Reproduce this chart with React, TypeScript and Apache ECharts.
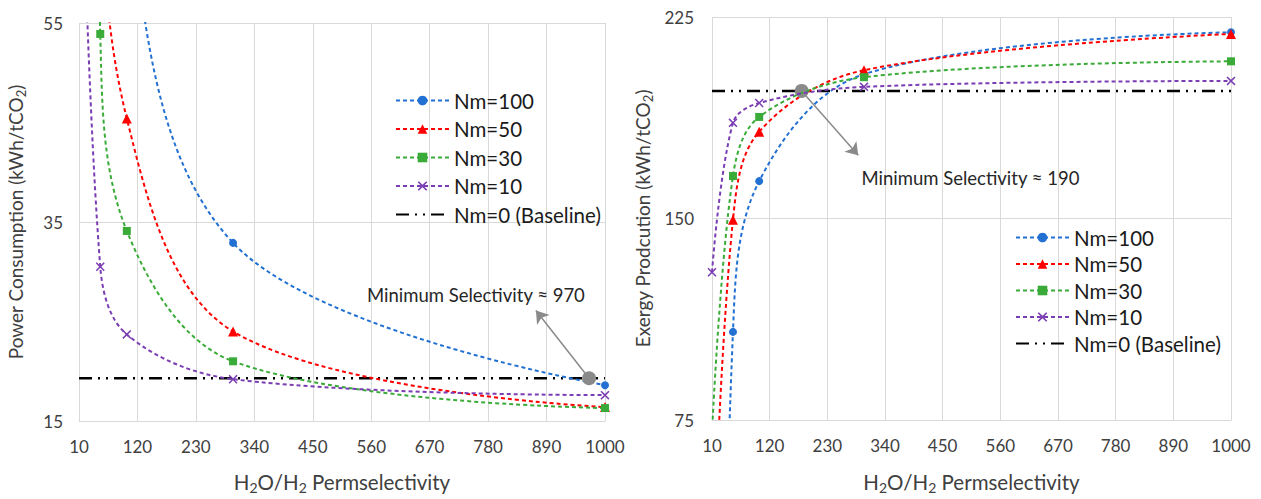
import React, { useEffect, useRef } from 'react';
import * as echarts from 'echarts';

// ---- data ----
const X_VALUES = [10, 50, 100, 300, 1000];
const SERIES_NAMES = ['Nm=100', 'Nm=50', 'Nm=30', 'Nm=10'];
const BASELINE_NAME = 'Nm=0 (Baseline)';

// Power consumption (kWh/tCO2); values above 55 lie outside the visible range
const POWER_NM100 = [620, 135, 70, 32.9, 18.6];
const POWER_NM50 = [334, 77.5, 45.4, 24.0, 16.4];
const POWER_NM30 = [212, 53.9, 34.1, 21.0, 16.3];
const POWER_NM10 = [85, 30.5, 23.7, 19.2, 17.6];
const POWER_BASELINE = [19.3, 19.3];

// Exergy production (kWh/tCO2); values below 75 lie outside the visible range
const EXERGY_NM100 = [-250, 107.8, 163.9, 203.7, 219.3];
const EXERGY_NM50 = [10, 149.5, 182.3, 205.2, 218.7];
const EXERGY_NM30 = [70, 165.8, 187.8, 202.6, 208.5];
const EXERGY_NM10 = [130, 185.6, 193.0, 199.0, 201.2];
const EXERGY_BASELINE = [197.5, 197.5];
const BASELINE_X = [10, 1000];

const X_MIN = 10;
const X_MAX = 1000;
const X_INTERVAL = 110;
const POWER_TICKS = [15, 55, 20]; // min, max, interval
const EXERGY_TICKS = [75, 225, 75];

const POWER_MIN_SEL = [970, 19.3];
const POWER_ARROW_TIP = [870, 26.1];
const POWER_LABEL_AT = [757, 27.7];
const EXERGY_MIN_SEL = [181, 197.5];
const EXERGY_ARROW_TIP = [289, 173.5];
const EXERGY_LABEL_AT = [503, 165];

const COLORS = ['#2170d2', '#ff0000', '#3aab38', '#7a3db3'];
const FONT = 'Lato, "Liberation Sans", sans-serif';
const XSYM = 'path://M0,1.2 L1.2,0 L5,3.8 L8.8,0 L10,1.2 L6.2,5 L10,8.8 L8.8,10 L5,6.2 L1.2,10 L0,8.8 L3.8,5 Z';
const SYMBOLS = ['circle', 'triangle', 'rect', XSYM];
const SYMBOL_SIZES = [8, 10, 8, 9];

const zip = (xs: number[], ys: number[]) => xs.map((x, i) => [x, ys[i]]);

const richName = (parts: Array<[string, boolean]>) =>
  parts.map(([t, sub]) => (sub ? `{s|${t}}` : `{a|${t}}`)).join('');

const makeRich = (size: number) => ({
  a: { fontSize: size, color: '#404040', fontFamily: FONT },
  s: { fontSize: Math.round(size * 0.66), color: '#404040', fontFamily: FONT, padding: [10, 0, 0, 0] },
});

export default function App() {
  const ref = useRef<HTMLDivElement>(null);
  useEffect(() => {
    if (!ref.current) return;
    const chart = echarts.init(ref.current, undefined, { renderer: 'svg' });

    const xAxisBase = (gridIndex: number, nameGap: number) => ({
      type: 'value',
      gridIndex,
      min: X_MIN,
      max: X_MAX,
      interval: X_INTERVAL,
      axisLine: { show: true, lineStyle: { color: '#d9d9d9', width: 1 } },
      axisTick: { show: false },
      axisLabel: { fontSize: 17, color: '#404040', fontFamily: FONT, margin: 17, formatter: (v: number) => String(v) },
      splitLine: { show: true, lineStyle: { color: '#d9d9d9', width: 1 } },
      name: richName([['H', false], ['2', true], ['O/H', false], ['2', true], [' Permselectivity', false]]),
      nameLocation: 'middle',
      nameGap,
      nameTextStyle: { rich: makeRich(20.5) },
    });

    const yAxisBase = (gridIndex: number, ticks: number[], name: string, nameGap: number, margin: number) => ({
      type: 'value',
      gridIndex,
      min: ticks[0],
      max: ticks[1],
      interval: ticks[2],
      axisLine: { show: false },
      axisTick: { show: false },
      axisLabel: { fontSize: 17, color: '#404040', fontFamily: FONT, margin },
      splitLine: { show: true, lineStyle: { color: '#d9d9d9', width: 1 } },
      name: richName([[name, false], ['2', true], [')', false]]),
      nameLocation: 'middle',
      nameGap,
      nameTextStyle: { rich: makeRich(19) },
    });

    const makeSeries = (gridIdx: number, data: number[][]) =>
      data.map((ys, i) => ({
        type: 'line',
        name: SERIES_NAMES[i],
        xAxisIndex: gridIdx,
        yAxisIndex: gridIdx,
        data: zip(X_VALUES, ys),
        smooth: 0.35,
        clip: true,
        symbol: SYMBOLS[i],
        symbolSize: SYMBOL_SIZES[i],
        showSymbol: true,
        lineStyle: { color: COLORS[i], width: 2, type: [4, 3] },
        itemStyle: { color: COLORS[i] },
        z: 3 + i,
      }));

    const annotation = (pt: number[], tip: number[], labelAt: number[], text: string) => ({
      markPoint: {
        silent: true,
        data: [
          { coord: pt, symbol: 'circle', symbolSize: 14, itemStyle: { color: '#8a8a8a' }, label: { show: false } },
          {
            coord: labelAt,
            symbol: 'circle',
            symbolSize: 0,
            label: { show: true, position: 'inside', formatter: text, fontSize: 18.5, color: '#262626', fontFamily: FONT },
          },
        ],
      },
      markLine: {
        silent: true,
        symbol: ['none', 'arrow'],
        symbolSize: 12,
        label: { show: false },
        lineStyle: { color: '#8a8a8a', width: 1.5, type: 'solid' },
        data: [[{ coord: pt }, { coord: tip }]],
      },
    });

    const baseline = (gridIdx: number, ys: number[], ann: any) => ({
      type: 'line',
      name: BASELINE_NAME,
      xAxisIndex: gridIdx,
      yAxisIndex: gridIdx,
      data: zip(BASELINE_X, ys),
      symbol: 'none',
      lineStyle: { color: '#000000', width: 2.5, type: [13, 6, 2, 6, 2, 6] },
      itemStyle: { color: '#000000' },
      z: 2,
      ...ann,
    });

    const legendBase = {
      orient: 'vertical',
      data: [...SERIES_NAMES, { name: BASELINE_NAME, itemStyle: { opacity: 0 } }],
      itemWidth: 53,
      itemHeight: 12,
      textStyle: { fontSize: 20.5, color: '#1a1a1a', fontFamily: FONT },
      padding: 0,
      selectedMode: false,
    };

    chart.setOption({
      animation: false,
      backgroundColor: '#ffffff',
      grid: [
        { left: 79, top: 23, width: 526, height: 409 },
        { left: 712, top: 17, width: 519, height: 407 },
      ],
      xAxis: [xAxisBase(0, 49), xAxisBase(1, 50)],
      yAxis: [
        yAxisBase(0, POWER_TICKS, 'Power Consumption (kWh/tCO', 52, 16),
        yAxisBase(1, EXERGY_TICKS, 'Exergy Prodcution (kWh/tCO', 58, 18),
      ],
      legend: [
        { ...legendBase, left: 395, top: 90, itemGap: 7.5 },
        { ...legendBase, left: 1015, top: 227, itemGap: 5.5 },
      ],
      series: [
        ...makeSeries(0, [POWER_NM100, POWER_NM50, POWER_NM30, POWER_NM10]),
        baseline(0, POWER_BASELINE, annotation(POWER_MIN_SEL, POWER_ARROW_TIP, POWER_LABEL_AT, 'Minimum Selectivity ≈ 970')),
        ...makeSeries(1, [EXERGY_NM100, EXERGY_NM50, EXERGY_NM30, EXERGY_NM10]),
        baseline(1, EXERGY_BASELINE, annotation(EXERGY_MIN_SEL, EXERGY_ARROW_TIP, EXERGY_LABEL_AT, 'Minimum Selectivity ≈ 190')),
      ],
    });
    return () => chart.dispose();
  }, []);
  return <div ref={ref} style={{ position: 'absolute', left: 0, top: 0, width: 1261, height: 499 }} />;
}
